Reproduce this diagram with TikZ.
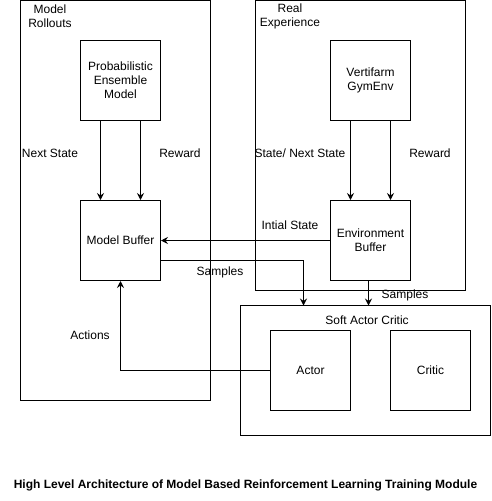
\documentclass[tikz,border=0pt]{standalone}
\usepackage{fontspec}
\setmainfont{Liberation Sans}
\usetikzlibrary{arrows.meta}
\begin{document}
\begin{tikzpicture}[x=1pt,y=-1pt,
  box/.style={draw,line width=1pt,minimum width=80pt,minimum height=80pt,align=center,inner sep=0pt,font=\fontsize{12}{14}\selectfont},
  frame/.style={draw,line width=1pt},
  lbl/.style={align=center,inner sep=0pt,font=\fontsize{12}{14}\selectfont},
  arr/.style={line width=1pt,-{Stealth[length=7pt,width=7pt,inset=2.5pt]}}]
\useasboundingbox (0,0) rectangle (491,501);
% containers
\draw[frame] (20.5,0.5) rectangle (210.5,400.5);
\draw[frame] (255.5,0.5) rectangle (465.5,290.5);
\draw[frame] (240.5,305.5) rectangle (490.5,435.5);
\node[lbl] (mrl) at (50,16) {Model\\Rollouts};
\node[lbl] (rel) at (290,16) {Real\\Experience};
\node[lbl] (sacl) at (367,320) {Soft Actor Critic};
% boxes
\node[box] (pem) at (120.5,80.5) {Probabilistic\\Ensemble\\Model};
\node[box] (mb) at (120.5,240.5) {Model Buffer};
\node[box] (vf) at (370.5,80.5) {Vertifarm\\GymEnv};
\node[box] (eb) at (370.5,240.5) {Environment\\Buffer};
\node[box] (actor) at (310.5,370.5) {Actor};
\node[box] (critic) at (430.5,370.5) {Critic};
% arrows
\draw[arr] (pem.south -| 100.5,0) -- (mb.north -| 100.5,0);
\draw[arr] (pem.south -| 140.5,0) -- (mb.north -| 140.5,0);
\draw[arr] (vf.south -| 350.5,0) -- (eb.north -| 350.5,0);
\draw[arr] (vf.south -| 390.5,0) -- (eb.north -| 390.5,0);
\draw[arr] (eb.west) -- (mb.east);
\coordinate (sacTopA) at (303.5,305.5);
\coordinate (sacTopB) at (368.5,305.5);
\draw[arr] (mb.east |- 0,260.5) -| (sacTopA);
\draw[arr] (eb.south -| sacTopB) -- (sacTopB);
\draw[arr] (actor.west) -| (mb.south);
% labels
\node[lbl] (ns) at (50,153) {Next State};
\node[lbl] (rw1) at (180,153) {Reward};
\node[lbl] (sns) at (300,153) {State/ Next State};
\node[lbl] (rw2) at (430,153) {Reward};
\node[lbl] (is) at (290,225) {Intial State};
\node[lbl] (s1) at (220,272) {Samples};
\node[lbl] (s2) at (405,295) {Samples};
\node[lbl] (act) at (90,335) {Actions};
\node[lbl,font=\bfseries\fontsize{12}{14}\selectfont] (cap) at (245.5,485) {High Level Architecture of Model Based Reinforcement Learning Training Module};
\end{tikzpicture}
\end{document}
